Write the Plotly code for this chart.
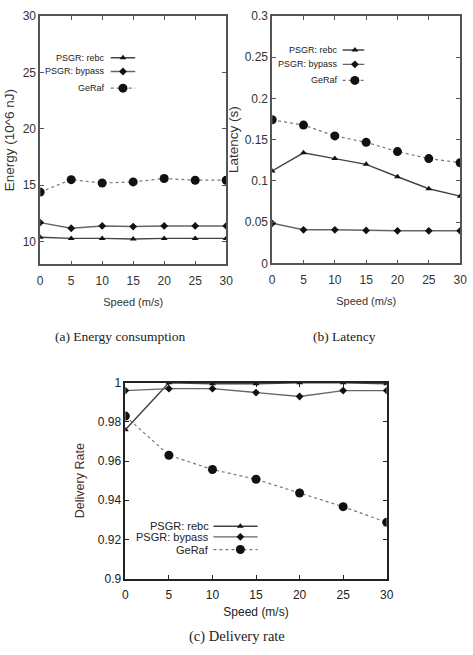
import plotly.graph_objects as go

# ---------------- data ----------------
speed = [0, 5, 10, 15, 20, 25, 30]
series_names = ["PSGR: rebc", "PSGR: bypass", "GeRaf"]

energy_rebc = [10.4, 10.3, 10.3, 10.25, 10.3, 10.3, 10.3]
energy_bypass = [11.7, 11.2, 11.4, 11.35, 11.4, 11.4, 11.4]
energy_geraf = [14.4, 15.5, 15.2, 15.3, 15.6, 15.45, 15.45]

latency_rebc = [0.112, 0.134, 0.127, 0.120, 0.105, 0.0905, 0.0815]
latency_bypass = [0.0486, 0.0407, 0.0407, 0.0400, 0.0395, 0.0395, 0.0395]
latency_geraf = [0.174, 0.1676, 0.1545, 0.1467, 0.1355, 0.127, 0.122]

delivery_rebc = [0.976, 1.0, 0.9995, 0.9995, 1.0, 1.0, 0.9995]
delivery_bypass = [0.996, 0.997, 0.997, 0.995, 0.993, 0.996, 0.996]
delivery_geraf = [0.983, 0.963, 0.9557, 0.9507, 0.9437, 0.9367, 0.9287]

energy_ticks = [10, 15, 20, 25, 30]
latency_ticks = [0, 0.05, 0.1, 0.15, 0.2, 0.25, 0.3]
latency_ticklabels = ["0", "0.05", "0.1", "0.15", "0.2", "0.25", "0.3"]
delivery_ticks = [0.9, 0.92, 0.94, 0.96, 0.98, 1.0]
delivery_ticklabels = ["0.9", "0.92", "0.94", "0.96", "0.98", "1"]
speed_ticks = [0, 5, 10, 15, 20, 25, 30]

captions = ["(a) Energy consumption", "(b) Latency", "(c) Delivery rate"]

# ---------------- styles ----------------
W, H = 473, 655
styles = [
    dict(line=dict(color="#444444", width=1.4), marker=dict(symbol="triangle-up", size=6, color="#111111")),
    dict(line=dict(color="#666666", width=1.4), marker=dict(symbol="diamond", size=6, color="#111111")),
    dict(line=dict(color="#777777", width=1.2, dash="dot"), marker=dict(symbol="circle", size=9, color="#111111")),
]
sans = "Liberation Sans, Arial, Helvetica, sans-serif"
serif = "Liberation Serif, Times New Roman, serif"

fig = go.Figure()

panels = [
    dict(ax="", series=[energy_rebc, energy_bypass, energy_geraf], lg=("x4", "y4")),
    dict(ax="2", series=[latency_rebc, latency_bypass, latency_geraf], lg=("x5", "y5")),
    dict(ax="3", series=[delivery_rebc, delivery_bypass, delivery_geraf], lg=("x6", "y6")),
]

for p in panels:
    xa = "x" + p["ax"]
    ya = "y" + p["ax"]
    for name, vals, st in zip(series_names, p["series"], styles):
        fig.add_trace(go.Scatter(x=speed, y=vals, name=name, mode="lines+markers",
                                 line=st["line"], marker=st["marker"],
                                 xaxis=xa, yaxis=ya, showlegend=False, hoverinfo="skip"))

# legend keys (in [0,1] overlay axes), gnuplot style: text then sample
legend_layout = [
    dict(tx=0.36, l0=0.379, l1=0.511, mx=0.445, rows=[0.831, 0.776, 0.709], font=dict(family=sans, size=9, color="#222")),
    dict(tx=0.36, l0=0.375, l1=0.49, mx=0.44, rows=[0.862, 0.804, 0.739], font=dict(family=sans, size=9, color="#222")),
    dict(tx=0.326, l0=0.337, l1=0.506, mx=0.44, rows=[0.2667, 0.213, 0.148], font=dict(family=sans, size=11, color="#222")),
]
annotations = []
for p, lg in zip(panels, legend_layout):
    xa, ya = p["lg"]
    for name, st, yy in zip(series_names, styles, lg["rows"]):
        fig.add_trace(go.Scatter(x=[lg["l0"], lg["l1"]], y=[yy, yy], mode="lines", line=st["line"],
                                 xaxis=xa, yaxis=ya, showlegend=False, hoverinfo="skip"))
        fig.add_trace(go.Scatter(x=[lg["mx"]], y=[yy], mode="markers", marker=st["marker"],
                                 xaxis=xa, yaxis=ya, showlegend=False, hoverinfo="skip"))
        annotations.append(dict(x=lg["tx"], y=yy, xref=xa, yref=ya, text=name, showarrow=False,
                                xanchor="right", yanchor="middle", font=lg["font"]))

# captions
cap_pos = [(119.5, 337, 13.5), (349, 337, 13.5), (239, 643, 14.5)]
for text, (cx, cy, fs) in zip(captions, cap_pos):
    annotations.append(dict(x=cx / W, y=1 - cy / H, xref="paper", yref="paper", text=text,
                            showarrow=False, xanchor="center", yanchor="middle",
                            font=dict(family=serif, size=fs, color="#222")))

def dom_x(a, b):
    return [a / W, b / W]

def dom_y(top, bottom):
    return [1 - bottom / H, 1 - top / H]

def axis_common(frame_color, tickfont):
    return dict(showline=True, linecolor=frame_color, linewidth=1.5, mirror="ticks",
                ticks="inside", ticklen=4, tickwidth=1, tickcolor=frame_color,
                showgrid=False, zeroline=False, tickfont=tickfont)

tf_ab = dict(family=sans, size=12, color="#333")
tf_c = dict(family=sans, size=12, color="#222")

layout = dict(
    width=W, height=H, margin=dict(l=0, r=0, t=0, b=0),
    paper_bgcolor="white", plot_bgcolor="white", showlegend=False,
    annotations=annotations,
    xaxis=dict(domain=dom_x(38, 228), range=[0, 30], tickvals=speed_ticks, anchor="y", ticklabelstandoff=4,
               title=dict(text="Speed (m/s)", font=dict(family=sans, size=11, color="#333"), standoff=12),
               **axis_common("#555", tf_ab)),
    yaxis=dict(domain=dom_y(9, 263), range=[8, 30], tickvals=energy_ticks, anchor="x",
               title=dict(text="Energy (10^6 nJ)", font=dict(family=sans, size=13.5, color="#333"), standoff=5),
               **axis_common("#555", tf_ab)),
    xaxis2=dict(domain=dom_x(275, 467), range=[0, 30], tickvals=speed_ticks, anchor="y2", ticklabelstandoff=4,
                title=dict(text="Speed (m/s)", font=dict(family=sans, size=11, color="#333"), standoff=12),
                **axis_common("#555", tf_ab)),
    yaxis2=dict(domain=dom_y(9, 262), range=[0, 0.3], tickvals=latency_ticks, ticktext=latency_ticklabels,
                anchor="x2",
                title=dict(text="Latency (s)", font=dict(family=sans, size=13.5, color="#333"), standoff=3),
                **axis_common("#555", tf_ab)),
    xaxis3=dict(domain=dom_x(125, 392), range=[0, 30], tickvals=speed_ticks, anchor="y3", ticklabelstandoff=4,
                title=dict(text="Speed (m/s)", font=dict(family=sans, size=12, color="#222"), standoff=7),
                **axis_common("#222", tf_c)),
    yaxis3=dict(domain=dom_y(384, 584), range=[0.9, 1.0], tickvals=delivery_ticks, ticktext=delivery_ticklabels,
                anchor="x3",
                title=dict(text="Delivery Rate", font=dict(family=sans, size=12.5, color="#4a3030"), standoff=10),
                **axis_common("#222", tf_c)),
)
for i, base in zip([4, 5, 6], ["", "2", "3"]):
    layout[f"xaxis{i}"] = dict(overlaying="x" + base, range=[0, 1], visible=False, anchor=f"y{i}")
    layout[f"yaxis{i}"] = dict(overlaying="y" + base, range=[0, 1], visible=False, anchor=f"x{i}")

fig.update_layout(**layout)
fig.write_html("out.html")
